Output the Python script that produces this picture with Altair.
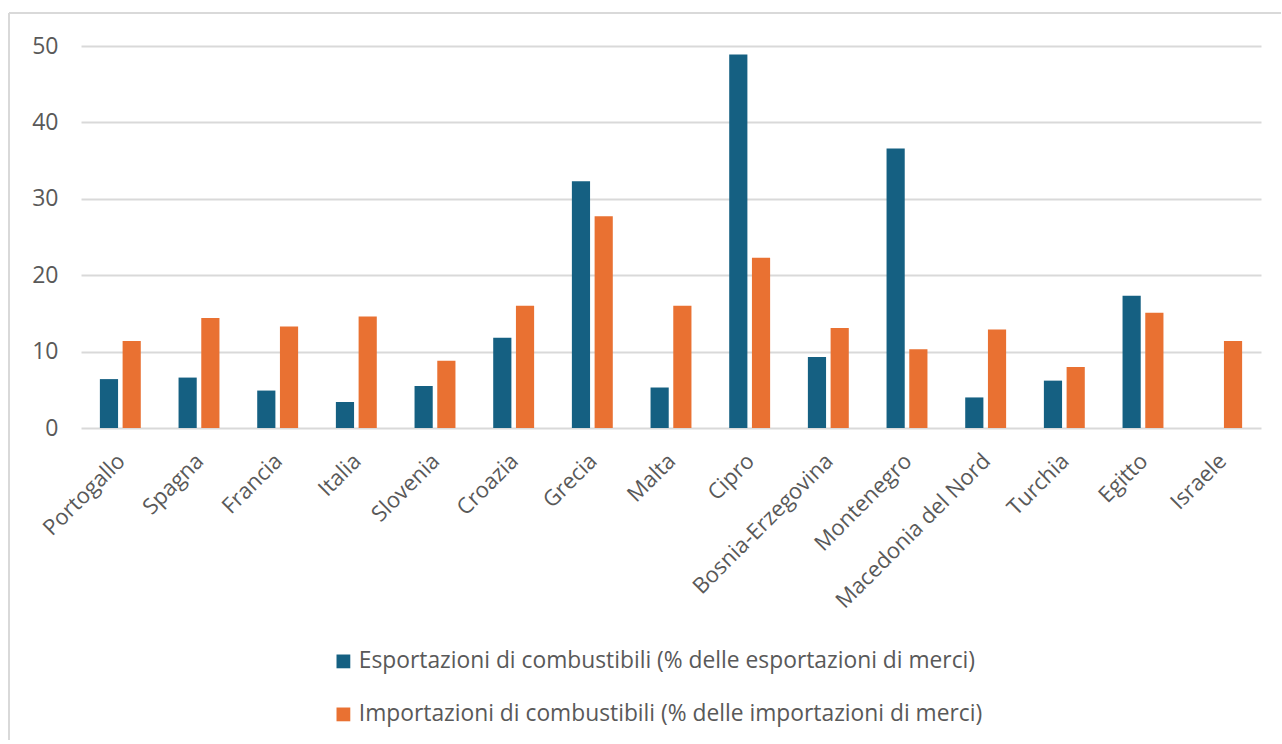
import altair as alt
import pandas as pd

paesi = ["Portogallo", "Spagna", "Francia", "Italia", "Slovenia", "Croazia", "Grecia",
         "Malta", "Cipro", "Bosnia-Erzegovina", "Montenegro", "Macedonia del Nord",
         "Turchia", "Egitto", "Israele"]
esportazioni = [6.4, 6.6, 4.9, 3.4, 5.5, 11.8, 32.3, 5.3, 48.9, 9.3, 36.6, 4.0, 6.2, 17.3, None]
importazioni = [11.4, 14.4, 13.3, 14.6, 8.8, 16.0, 27.7, 16.0, 22.3, 13.1, 10.3, 12.9, 8.0, 15.1, 11.4]
serie = ["Esportazioni di combustibili (% delle esportazioni di merci)",
         "Importazioni di combustibili (% delle importazioni di merci)"]
colori = ["#156082", "#E97132"]
y_ticks = [0, 10, 20, 30, 40, 50]

rows = []
for p, e, i in zip(paesi, esportazioni, importazioni):
    rows.append({"Paese": p, "Serie": serie[0], "Valore": e})
    rows.append({"Paese": p, "Serie": serie[1], "Valore": i})
df = pd.DataFrame(rows)

FONT = "Open Sans"
GRAY = "#595959"

bars = alt.Chart(df).mark_bar().encode(
    x=alt.X("Paese:N", sort=paesi,
            scale=alt.Scale(paddingInner=0.48, paddingOuter=0.24),
            axis=alt.Axis(title=None, labelAngle=-45, labelFontSize=22, labelColor=GRAY,
                          labelFont=FONT, domain=False, ticks=False, tickSize=0,
                          labelPadding=22, labelOffset=-6, labelLimit=0)),
    xOffset=alt.XOffset("Serie:N", sort=serie, scale=alt.Scale(paddingInner=0.2)),
    y=alt.Y("Valore:Q", scale=alt.Scale(domain=[0, 50], nice=False),
            axis=alt.Axis(title=None, values=y_ticks, gridColor="#d9d9d9", gridWidth=2,
                          domain=False, ticks=False, tickSize=0, labelPadding=23,
                          labelFontSize=23, labelColor=GRAY, labelFont=FONT)),
    color=alt.Color("Serie:N", sort=serie,
                    scale=alt.Scale(domain=serie, range=colori),
                    legend=alt.Legend(title=None, orient="none", legendX=251, legendY=604,
                                      direction="vertical", symbolType="square",
                                      symbolSize=190, labelFontSize=22.8, rowPadding=29,
                                      labelColor=GRAY, labelFont=FONT, symbolStrokeWidth=0,
                                      labelOffset=4, padding=0, labelLimit=0)),
)

one = pd.DataFrame({"k": [0]})
top_line = alt.Chart(one).mark_rule(color="#d9d9d9", strokeWidth=2).encode(
    x=alt.value(-72), x2=alt.value(1200), y=alt.value(-33))
left_line = alt.Chart(one).mark_rule(color="#d9d9d9", strokeWidth=2).encode(
    x=alt.value(-72), y=alt.value(-33), y2=alt.value(694))

chart = alt.layer(top_line, left_line, bars).properties(
    width=1180, height=382,
    padding={"left": 8, "top": 12, "right": 0, "bottom": 0},
    background="white",
).configure_view(stroke=None)

chart.save("out.html", embed_options={"renderer": "svg", "actions": False})
